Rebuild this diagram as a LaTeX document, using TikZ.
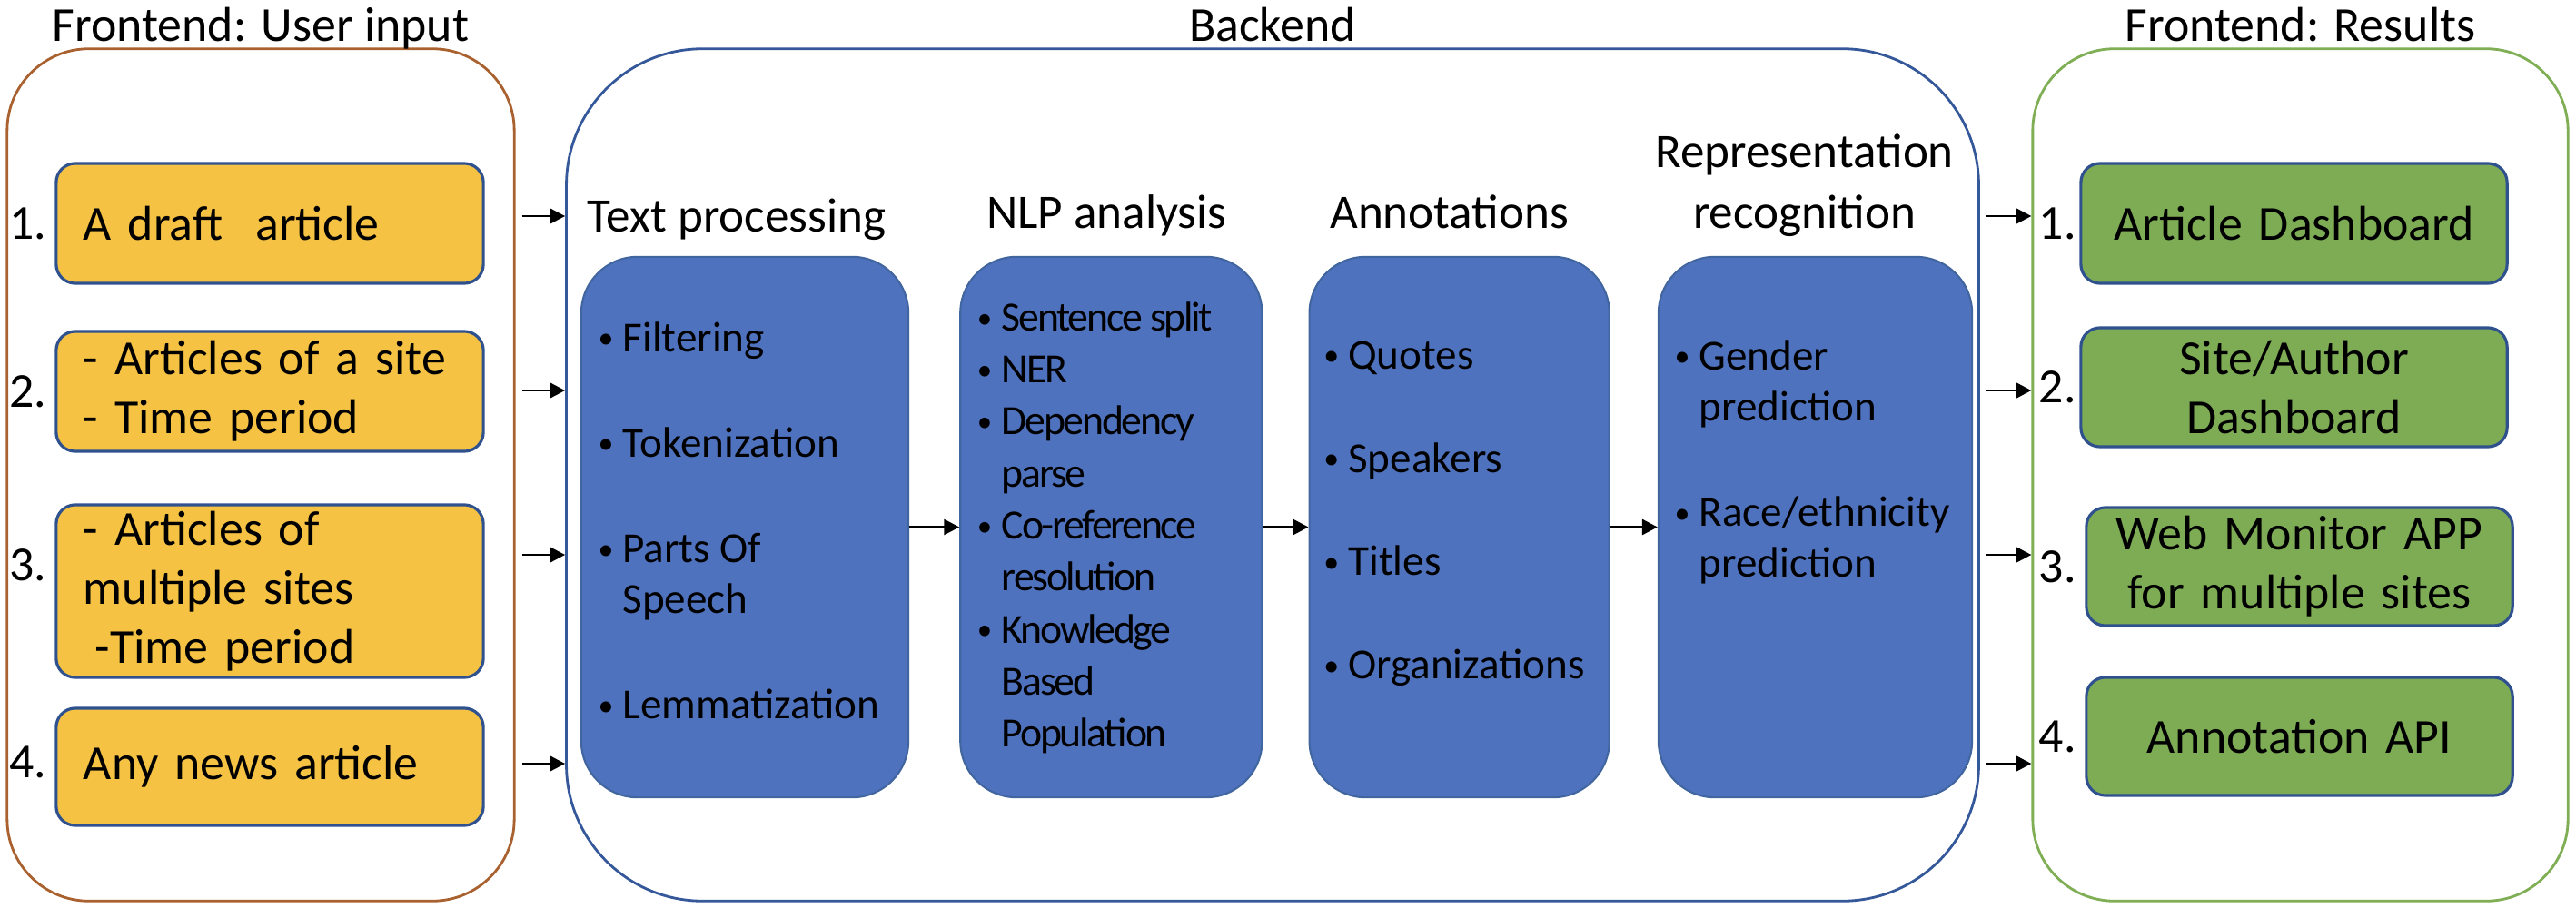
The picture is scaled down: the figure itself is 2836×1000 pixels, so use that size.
\documentclass[tikz,border=0pt]{standalone}
\usepackage{fontspec}
\setmainfont{Carlito}
\usetikzlibrary{arrows.meta,positioning}
\definecolor{inputline}{HTML}{A9622F}
\definecolor{backline}{HTML}{34589A}
\definecolor{resultline}{HTML}{7FAE55}
\definecolor{boxline}{HTML}{2F528F}
\definecolor{inputfill}{HTML}{F5C243}
\definecolor{resultfill}{HTML}{7EAC55}
\definecolor{stagefill}{HTML}{4F72BE}
\definecolor{stageline}{HTML}{41659F}
\newcommand{\boxfont}{\fontsize{15.3pt}{18.5pt}\selectfont}
\newcommand{\headfont}{\fontsize{15.1pt}{19pt}\selectfont}
\newcommand{\listfont}{\fontsize{13.4pt}{16pt}\selectfont}
\newcommand{\nlpfont}{\fontsize{13pt}{16.3pt}\selectfont\addfontfeature{LetterSpace=-5}}
\newcommand{\bul}{\makebox[0.27cm][l]{\raisebox{0.07em}{\scalebox{0.72}{\textbullet}}}}
\newcommand{\cont}{\hspace*{0.27cm}}

\begin{document}
\begin{tikzpicture}[
    x=0.01cm, y=-0.01cm,
    panel/.style={rounded corners=0.9cm,line width=0.8pt,minimum height=9.38cm,inner sep=0pt},
    inbox/.style={draw=boxline,fill=inputfill,line width=0.9pt,rounded corners=0.21cm,text width=4.1cm,inner xsep=0.3cm,inner ysep=0pt,align=left,font=\boxfont},
    outbox/.style={draw=boxline,fill=resultfill,line width=0.9pt,rounded corners=0.21cm,text width=4.3cm,inner xsep=0.195cm,inner ysep=0pt,align=center,font=\boxfont},
    stage/.style={draw=stageline,fill=stagefill,line width=0.6pt,rounded corners=0.62cm,minimum height=5.95cm,inner sep=0pt},
    head/.style={font=\headfont,align=center,inner sep=0pt,text depth=0pt},
    title/.style={font=\boxfont,inner sep=0pt,text depth=0pt},
    items/.style={font=\listfont,align=left,inner sep=0pt},
    num/.style={font=\boxfont,inner sep=0pt},
    arrow/.style={-{Triangle[length=4.8pt,width=4.8pt]},line width=0.8pt}
  ]
    \useasboundingbox (0,0) rectangle (2836,1000);
    \node[panel,draw=inputline,minimum width=5.58cm] (ui) at (287,523) {};
    \node[panel,draw=backline,minimum width=15.54cm,rounded corners=1.5cm] (be) at (1401,523) {};
    \node[panel,draw=resultline,minimum width=5.89cm] (res) at (2532.5,523) {};
    \node[title,above=0.06cm of ui] {Frontend: User input};
    \node[title,above=0.06cm of be] {Backend};
    \node[title,above=0.06cm of res] {Frontend: Results};

    \node[inbox,minimum height=1.32cm] (in1) at (297,246) {A draft\ \ article};
    \node[inbox,minimum height=1.32cm] (in2) at (297,431) {- Articles of a site\\- Time period};
    \node[inbox,minimum height=1.9cm] (in3) at (297,651) {- Articles of\\multiple sites\\\hspace*{0.13cm}-Time period};
    \node[inbox,minimum height=1.29cm] (in4) at (297,844.5) {Any news article};
    \node[num,left=0.08cm of in1] {1.};
    \node[num,left=0.08cm of in2] {2.};
    \node[num,left=0.08cm of in3,yshift=0.29cm] {3.};
    \node[num,left=0.08cm of in4,yshift=0.05cm] {4.};

    \node[stage,minimum width=3.6cm] (tp) at (820,580.5) {};
    \node[stage,minimum width=3.32cm,right=0.55cm of tp] (nlp) {};
    \node[stage,minimum width=3.3cm,right=0.5cm of nlp] (ann) {};
    \node[stage,minimum width=3.45cm,right=0.52cm of ann] (rep) {};
    \node[head,above=0.26cm of tp,xshift=-0.09cm] {Text processing};
    \node[head,above=0.3cm of nlp,xshift=-0.05cm] {NLP analysis};
    \node[head,above=0.3cm of ann,xshift=-0.11cm] {Annotations};
    \node[head,above=0.3cm of rep,xshift=-0.12cm] {Representation\\recognition};
    \node[items,below right=0.72cm and 0.19cm of tp.north west] (tplist) {\bul Filtering\\[17pt]\bul Tokenization\\[17pt]\bul Parts Of\\\cont Speech\\[17pt]\bul Lemmatization};
    \node[items,font=\nlpfont,below right=0.5cm and 0.19cm of nlp.north west] (nlplist) {\bul Sentence split\\\bul NER\\\bul Dependency\\\cont parse\\\bul Co-reference\\\cont resolution\\\bul Knowledge\\\cont Based\\\cont Population};
    \node[items,below right=0.93cm and 0.16cm of ann.north west] (annlist) {\bul Quotes\\[16.4pt]\bul Speakers\\[16.4pt]\bul Titles\\[16.4pt]\bul Organizations};
    \node[items,below right=0.92cm and 0.18cm of rep.north west] (replist) {\bul Gender\\\cont prediction\\[17pt]\bul Race/ethnicity\\\cont prediction};

    \node[outbox,minimum height=1.32cm] (out1) at (2525.5,246) {Article Dashboard};
    \node[outbox,minimum height=1.31cm] (out2) at (2525.5,426.5) {Site/Author\\Dashboard};
    \node[outbox,minimum height=1.3cm] (out3) at (2531.5,624) {Web Monitor APP\\for multiple sites};
    \node[outbox,minimum height=1.3cm] (out4) at (2531.5,811) {Annotation API};
    \node[num,left=0.03cm of out1] {1.};
    \node[num,left=0.03cm of out2] {2.};
    \node[num,left=0.09cm of out3] {3.};
    \node[num,left=0.09cm of out4] {4.};

    \coordinate (row1) at (0,238);
    \coordinate (row2) at (0,430);
    \coordinate (row3) at (0,611);
    \coordinate (row4) at (0,841);
    \draw[arrow,shorten <=0.07cm] (ui.east |- row1) -- (be.west |- row1);
    \draw[arrow,shorten <=0.07cm] (ui.east |- row2) -- (be.west |- row2);
    \draw[arrow,shorten <=0.07cm] (ui.east |- row3) -- (be.west |- row3);
    \draw[arrow,shorten <=0.07cm] (ui.east |- row4) -- (be.west |- row4);
    \draw[arrow] (tp) -- (nlp);
    \draw[arrow] (nlp) -- (ann);
    \draw[arrow] (ann) -- (rep);
    \draw[arrow,shorten <=0.06cm] (be.east |- row1) -- (res.west |- row1);
    \draw[arrow,shorten <=0.06cm] (be.east |- row2) -- (res.west |- row2);
    \draw[arrow,shorten <=0.06cm] (be.east |- row3) -- (res.west |- row3);
    \draw[arrow,shorten <=0.06cm] (be.east |- row4) -- (res.west |- row4);
  \end{tikzpicture}
\end{document}
